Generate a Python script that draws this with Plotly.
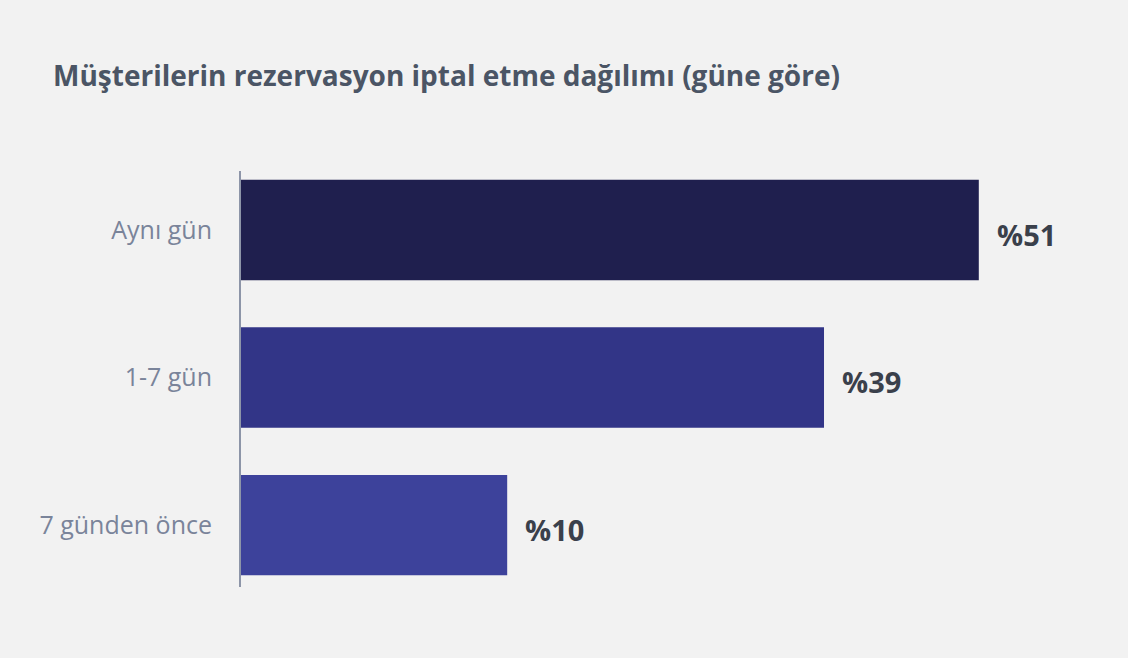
import plotly.graph_objects as go

categories = ["Aynı gün", "1-7 gün", "7 günden önce"]
values = [51, 39, 10]               # printed percentages
bar_lengths = [51, 40.3, 18.4]      # drawn bar lengths
value_labels = ["%51", "%39", "%10"]
bar_colors = ["#1F1F4E", "#323587", "#3D429B"]
title_text = "Müşterilerin rezervasyon iptal etme dağılımı (güne göre)"

FONT = "'Open Sans', Lato, sans-serif"

fig = go.Figure()
fig.add_trace(go.Bar(
    y=categories,
    x=bar_lengths,
    orientation="h",
    marker=dict(color=bar_colors, line=dict(width=0)),
    width=0.68,
    hoverinfo="skip",
    customdata=values,
))

for cat, length, lab in zip(categories, bar_lengths, value_labels):
    fig.add_annotation(
        x=length, y=cat, xref="x", yref="y",
        text=lab, showarrow=False,
        xanchor="left", yanchor="middle", xshift=16, yshift=-4,
        font=dict(family=FONT, size=29, color="#3A404B", weight="bold"),
    )

fig.update_layout(
    width=1128, height=658,
    paper_bgcolor="#F2F2F2", plot_bgcolor="#F2F2F2",
    margin=dict(l=241, r=19, t=171, b=71),
    showlegend=False,
    title=dict(
        text=title_text,
        x=53 / 1128, xanchor="left", xref="container",
        y=1 - 76 / 658, yanchor="middle", yref="container",
        font=dict(family=FONT, size=28, color="#4B5565", weight="bold"),
    ),
    xaxis=dict(range=[0, 60], visible=False, fixedrange=True),
    yaxis=dict(
        range=[2.42, -0.4],
        showline=True, linecolor="#8D95A8", linewidth=2,
        showgrid=False, zeroline=False, ticks="",
        ticklabelstandoff=22,
        tickfont=dict(family=FONT, size=25, color="#7A849A", weight=500),
        fixedrange=True,
    ),
)

fig.write_html(
    "out.html",
    config={"displayModeBar": False},
    post_script="document.body.style.margin='0';document.body.style.background='#F2F2F2';",
)
